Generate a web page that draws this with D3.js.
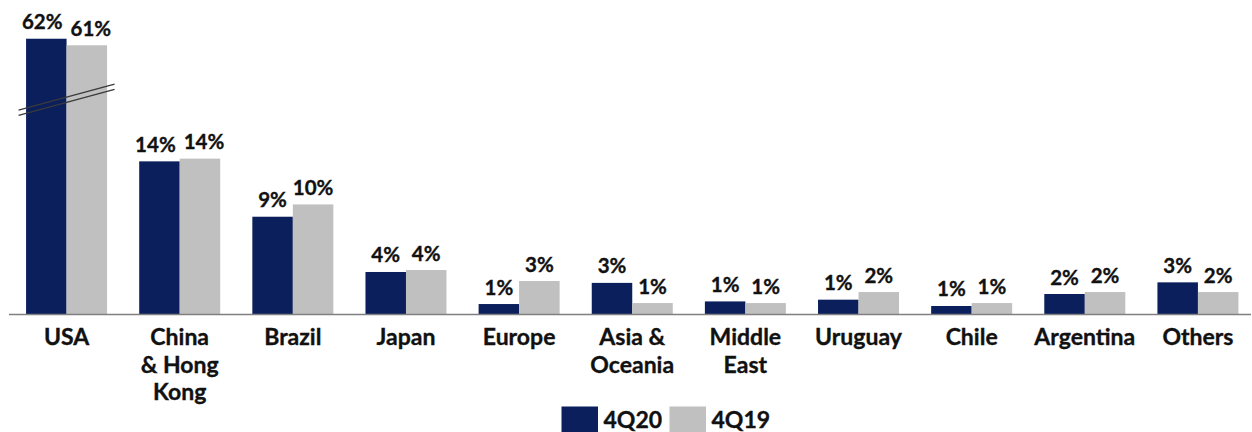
<!DOCTYPE html>
<html>
<head>
<meta charset="utf-8">
<script src="https://cdn.jsdelivr.net/npm/d3@7"></script>
<style>
  html, body { margin: 0; padding: 0; background: #ffffff; }
  svg { display: block; }
  text { font-family: Lato, "Open Sans", sans-serif; font-weight: 700; fill: #111111;
         stroke: #111111; stroke-width: 0.35px; }
</style>
</head>
<body>
<svg id="chart" width="1252" height="432"></svg>
<script>
// Share of revenue by destination, 4Q20 vs 4Q19 (percent)
const categories = [
  ["USA"],
  ["China", "& Hong", "Kong"],
  ["Brazil"],
  ["Japan"],
  ["Europe"],
  ["Asia &", "Oceania"],
  ["Middle", "East"],
  ["Uruguay"],
  ["Chile"],
  ["Argentina"],
  ["Others"]
];
const seriesNames = ["4Q20", "4Q19"];
const values4Q20 = [62.0, 14.05, 8.97, 3.9, 0.96, 2.9, 1.2, 1.36, 0.78, 1.88, 2.95];
const values4Q19 = [61.4, 14.3, 10.1, 4.08, 3.07, 1.05, 1.05, 2.06, 1.05, 2.06, 2.06];
const colors = ["#0b1f5c", "#c0c0c0"];

const svg = d3.select("#chart");
const keys = categories.map(c => c.join(" "));

// Category bands and the pair of bars inside each band
const x0 = d3.scaleBand().domain(keys).range([10, 1254.5]);
const step = x0.bandwidth();
const groupW = 81;
const x1 = d3.scaleBand().domain(seriesNames)
  .range([(step - groupW) / 2, (step + groupW) / 2]);

// Broken value axis: 0–20 linear, then values above the cut resume at the same slope
const base = 314.5, k = 10.9, cut = 36.7;
const y = d3.scaleLinear()
  .domain([0, 20, 20 + cut, 70])
  .range([base, base - 20 * k, base - 20 * k, base - (70 - cut) * k]);

const rows = keys.map((key, i) => ({
  key,
  lines: categories[i],
  vals: [
    { s: seriesNames[0], v: values4Q20[i] },
    { s: seriesNames[1], v: values4Q19[i] }
  ]
}));

const fmt = v => d3.format(".0f")(v) + "%";

const g = svg.selectAll("g.cat").data(rows).join("g")
  .attr("class", "cat")
  .attr("transform", d => `translate(${x0(d.key)},0)`);

g.selectAll("rect").data(d => d.vals).join("rect")
  .attr("x", d => x1(d.s))
  .attr("width", x1.bandwidth())
  .attr("y", d => y(d.v))
  .attr("height", d => base - y(d.v))
  .attr("fill", (d, i) => colors[i]);

g.each(function () {
  const labels = d3.select(this).selectAll("text.val").data(d => d.vals).join("text")
    .attr("class", "val")
    .attr("x", d => x1(d.s) + x1.bandwidth() / 2)
    .attr("y", d => y(d.v) - 9.5)
    .attr("text-anchor", "middle")
    .style("font-size", "20.5px")
    .text(d => fmt(d.v));
  // Push the two labels apart when they would crowd each other
  const w = labels.nodes().map(n => n.getComputedTextLength());
  const nudge = Math.max(0, ((w[0] + w[1]) / 2 + 8 - x1.bandwidth()) / 2);
  if (nudge > 2) {
    labels.attr("x", (d, i) => x1(d.s) + x1.bandwidth() / 2 + (i === 0 ? -nudge : nudge));
  }
});

// Category axis labels (possibly multi-line)
g.append("text")
  .attr("class", "cat-label")
  .attr("x", step / 2)
  .attr("y", 345)
  .attr("text-anchor", "middle")
  .style("font-size", "23px")
  .selectAll("tspan").data(d => d.lines).join("tspan")
  .attr("x", step / 2)
  .attr("dy", (d, i) => i === 0 ? 0 : 27.5)
  .text(d => d);

// Baseline
svg.append("line")
  .attr("x1", 9).attr("x2", 1251)
  .attr("y1", base).attr("y2", base)
  .attr("stroke", "#808080").attr("stroke-width", 1.5);

// Axis-break marks across the USA bars
const usaCenter = x0(keys[0]) + step / 2;
const yb = y(19.7);
[-2.6, 2.6].forEach(off => {
  svg.append("line")
    .attr("x1", usaCenter - 48).attr("y1", yb + off + 13)
    .attr("x2", usaCenter + 48).attr("y2", yb + off - 13)
    .attr("stroke", "#3a3a3a").attr("stroke-width", 1.4);
});

// Legend
const legend = svg.append("g").attr("transform", "translate(561.5,406.5)");
const items = legend.selectAll("g").data(seriesNames).join("g")
  .attr("transform", (d, i) => `translate(${i * 108},0)`);
items.append("rect")
  .attr("width", 36.5).attr("height", 26)
  .attr("fill", (d, i) => colors[i]);
items.append("text")
  .attr("x", 42).attr("y", 21.5)
  .style("font-size", "23px")
  .text(d => d);
</script>
</body>
</html>
